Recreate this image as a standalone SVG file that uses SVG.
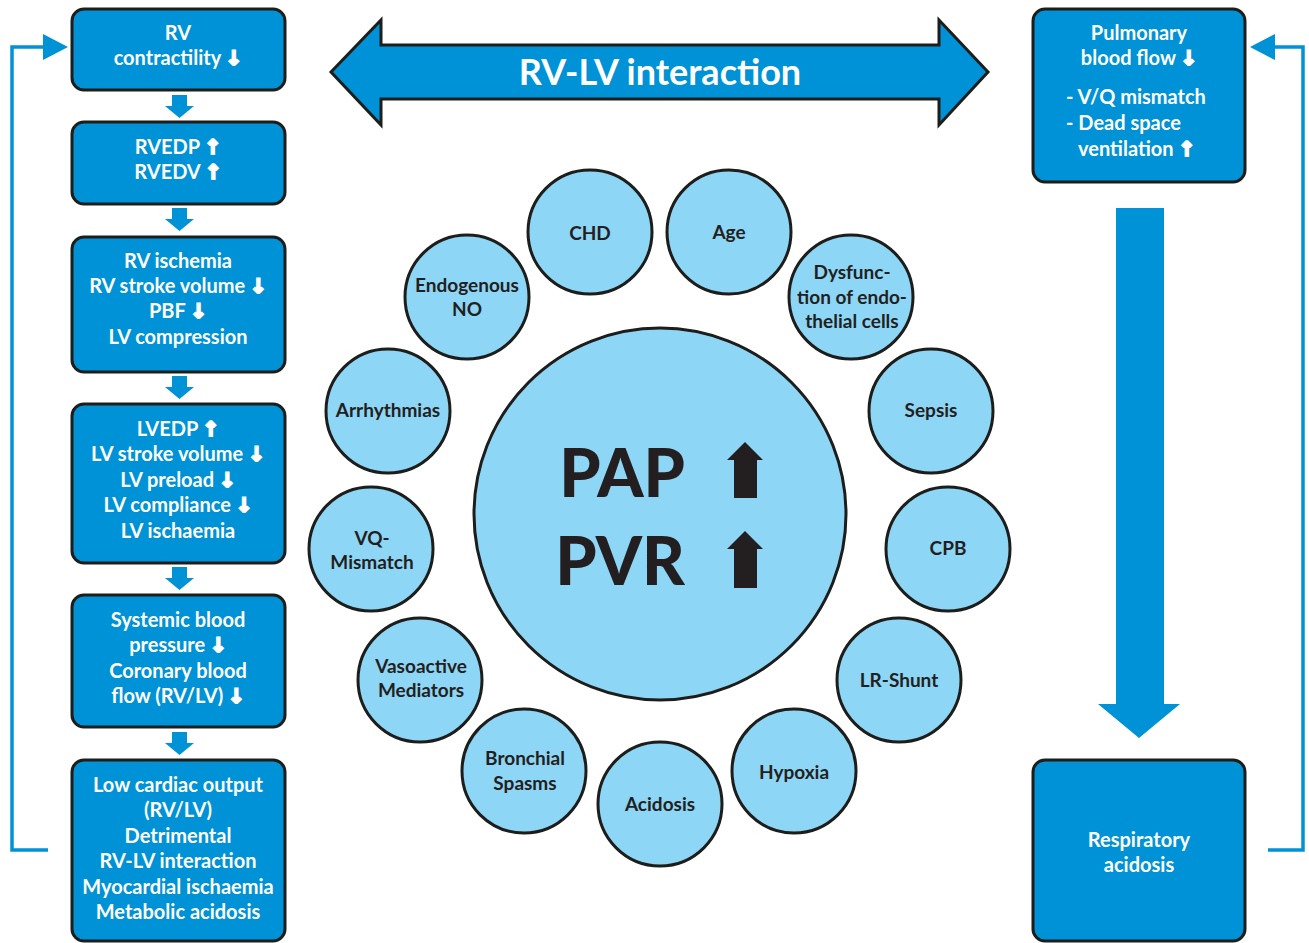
<svg xmlns="http://www.w3.org/2000/svg" width="1309" height="943" viewBox="0 0 1309 943">
<style>
.box{fill:#0092d6;stroke:#1d1d1b;stroke-width:3}
.wt{fill:#fff;font-family:Lato,"Open Sans",sans-serif;font-weight:700;font-size:20px;text-anchor:middle}
.ws{text-anchor:start}
.circ{fill:#8ed6f6;stroke:#1d1d1b;stroke-width:3}
.ct{fill:#231f20;font-family:Lato,"Open Sans",sans-serif;font-weight:700;font-size:19px;text-anchor:middle}
.ar{font-family:"DejaVu Sans",sans-serif;font-weight:700;font-size:20px;stroke:#fff;stroke-width:2;stroke-linejoin:miter}
.sa{fill:#0092d6}
.fb{fill:none;stroke:#0092d6;stroke-width:3.5}
</style>
<rect width="1309" height="943" fill="#fff"/>

<g id="connectors">
  <path class="sa" d="M172,95 H187 V106 H194 L179.5,118 L165,106 H172 Z"/>
  <path class="sa" d="M172,208 H187 V219 H194 L179.5,231 L165,219 H172 Z"/>
  <path class="sa" d="M172,376 H187 V387 H194 L179.5,399 L165,387 H172 Z"/>
  <path class="sa" d="M172,567 H187 V578 H194 L179.5,590 L165,578 H172 Z"/>
  <path class="sa" d="M172,732 H187 V743 H194 L179.5,755 L165,743 H172 Z"/>
  <path class="fb" d="M48,850 H12 V47 H46"/>
  <path class="sa" d="M43,34 L68,47 L43,60 Z"/>
  <path class="fb" d="M1268,850 H1303 V47 H1272"/>
  <path class="sa" d="M1275,34 L1250,47 L1275,60 Z"/>
  <path class="sa" d="M1116,208 H1164 V704 H1180 L1139,738 L1098,704 H1116 Z"/>
</g>

<g id="rvlv-interaction">
  <path d="M331,72 L381,20 V45 H939 V20 L988,72 L939,125 V99 H381 V125 Z" fill="#0092d6" stroke="#1d1d1b" stroke-width="3" stroke-linejoin="miter"/>
  <text x="660" y="85" fill="#fff" font-family="Lato,'Open Sans',sans-serif" font-weight="700" font-size="36" text-anchor="middle">RV-LV interaction</text>
</g>

<g id="box-rv-contractility">
  <rect class="box" x="72" y="9" width="213" height="81" rx="12"/>
  <text class="wt" x="178" y="40">RV</text>
  <text class="wt" x="178" y="65">contractility <tspan class="ar">↓</tspan></text>
</g>
<g id="box-rvedp">
  <rect class="box" x="72" y="122" width="213" height="82" rx="12"/>
  <text class="wt" x="178" y="154">RVEDP <tspan class="ar">↑</tspan></text>
  <text class="wt" x="178" y="179">RVEDV <tspan class="ar">↑</tspan></text>
</g>
<g id="box-rv-ischemia">
  <rect class="box" x="72" y="237" width="213" height="135" rx="12"/>
  <text class="wt" x="178" y="268">RV ischemia</text>
  <text class="wt" x="178" y="293">RV stroke volume <tspan class="ar">↓</tspan></text>
  <text class="wt" x="178" y="318">PBF <tspan class="ar">↓</tspan></text>
  <text class="wt" x="178" y="344">LV compression</text>
</g>
<g id="box-lvedp">
  <rect class="box" x="72" y="404" width="213" height="159" rx="12"/>
  <text class="wt" x="178" y="436">LVEDP <tspan class="ar">↑</tspan></text>
  <text class="wt" x="178" y="461">LV stroke volume <tspan class="ar">↓</tspan></text>
  <text class="wt" x="178" y="487">LV preload <tspan class="ar">↓</tspan></text>
  <text class="wt" x="178" y="512">LV compliance <tspan class="ar">↓</tspan></text>
  <text class="wt" x="178" y="538">LV ischaemia</text>
</g>
<g id="box-systemic">
  <rect class="box" x="72" y="595" width="213" height="132" rx="12"/>
  <text class="wt" x="178" y="627">Systemic blood</text>
  <text class="wt" x="178" y="652">pressure <tspan class="ar">↓</tspan></text>
  <text class="wt" x="178" y="678">Coronary blood</text>
  <text class="wt" x="178" y="703">flow (RV/LV) <tspan class="ar">↓</tspan></text>
</g>
<g id="box-low-co">
  <rect class="box" x="72" y="760" width="213" height="181" rx="12"/>
  <text class="wt" x="178" y="792">Low cardiac output</text>
  <text class="wt" x="178" y="817">(RV/LV)</text>
  <text class="wt" x="178" y="843">Detrimental</text>
  <text class="wt" x="178" y="868">RV-LV interaction</text>
  <text class="wt" x="178" y="894">Myocardial ischaemia</text>
  <text class="wt" x="178" y="919">Metabolic acidosis</text>
</g>

<g id="box-pulmonary">
  <rect class="box" x="1033" y="9" width="212" height="173" rx="12"/>
  <text class="wt" x="1139" y="40">Pulmonary</text>
  <text class="wt" x="1139" y="65">blood flow <tspan class="ar">↓</tspan></text>
  <text class="wt ws" x="1066" y="104">- V/Q mismatch</text>
  <text class="wt ws" x="1066" y="130">- Dead space</text>
  <text class="wt ws" x="1078" y="156">ventilation <tspan class="ar">↑</tspan></text>
</g>
<g id="box-resp-acidosis">
  <rect class="box" x="1033" y="760" width="212" height="181" rx="12"/>
  <text class="wt" x="1139" y="847">Respiratory</text>
  <text class="wt" x="1139" y="872">acidosis</text>
</g>

<g id="center-pap-pvr">
  <circle class="circ" cx="660" cy="514" r="186"/>
  <text x="685" y="497" fill="#231f20" font-family="Lato,'Open Sans',sans-serif" font-weight="900" font-size="66" text-anchor="end">PAP</text>
  <text x="685" y="585" fill="#231f20" font-family="Lato,'Open Sans',sans-serif" font-weight="900" font-size="66" text-anchor="end">PVR</text>
  <path d="M745,442 L763,460 H757 V498 H734 V460 H727 Z" fill="#231f20"/>
  <path d="M745,531 L763,549 H757 V588 H734 V549 H727 Z" fill="#231f20"/>
</g>

<g id="c-chd"><circle class="circ" cx="590" cy="232" r="62"/><text class="ct" x="590" y="240">CHD</text></g>
<g id="c-age"><circle class="circ" cx="729" cy="232" r="62"/><text class="ct" x="729" y="239">Age</text></g>
<g id="c-dysfunction"><circle class="circ" cx="851" cy="297" r="62"/>
  <text class="ct" x="852" y="279">Dysfunc-</text><text class="ct" x="852" y="304">tion of endo-</text><text class="ct" x="852" y="328">thelial cells</text></g>
<g id="c-sepsis"><circle class="circ" cx="931" cy="411" r="62"/><text class="ct" x="931" y="417">Sepsis</text></g>
<g id="c-cpb"><circle class="circ" cx="948" cy="549" r="62"/><text class="ct" x="948" y="555">CPB</text></g>
<g id="c-lr-shunt"><circle class="circ" cx="899" cy="680" r="62"/><text class="ct" x="899" y="687">LR-Shunt</text></g>
<g id="c-hypoxia"><circle class="circ" cx="794" cy="771" r="62"/><text class="ct" x="794" y="779">Hypoxia</text></g>
<g id="c-acidosis"><circle class="circ" cx="660" cy="804" r="62"/><text class="ct" x="660" y="811">Acidosis</text></g>
<g id="c-bronchial"><circle class="circ" cx="524" cy="771" r="62"/>
  <text class="ct" x="525" y="765">Bronchial</text><text class="ct" x="525" y="790">Spasms</text></g>
<g id="c-vasoactive"><circle class="circ" cx="420" cy="680" r="62"/>
  <text class="ct" x="421" y="673">Vasoactive</text><text class="ct" x="421" y="697">Mediators</text></g>
<g id="c-vq"><circle class="circ" cx="371" cy="549" r="62"/>
  <text class="ct" x="372" y="545">VQ-</text><text class="ct" x="372" y="569">Mismatch</text></g>
<g id="c-arrhythmias"><circle class="circ" cx="388" cy="411" r="62"/><text class="ct" x="388" y="417">Arrhythmias</text></g>
<g id="c-endogenous-no"><circle class="circ" cx="467" cy="297" r="62"/>
  <text class="ct" x="467" y="292">Endogenous</text><text class="ct" x="467" y="316">NO</text></g>
</svg>
